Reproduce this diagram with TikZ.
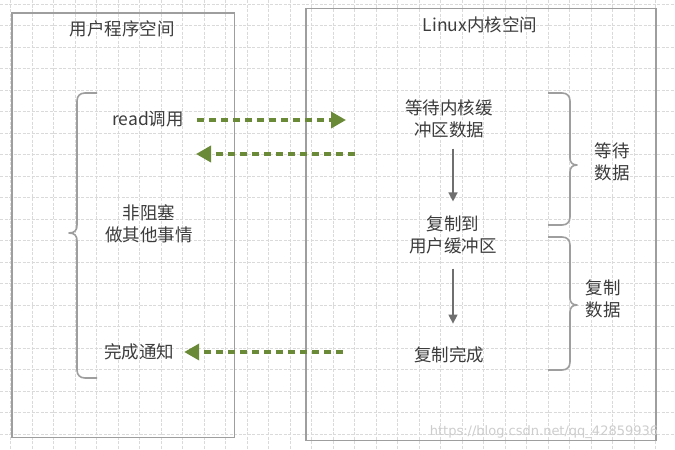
\documentclass[tikz,border=0pt]{standalone}
\usepackage{fontspec}
\newfontfamily\cjk{Noto Sans CJK SC}
\usetikzlibrary{arrows.meta}
\definecolor{gridc}{RGB}{218,218,218}
\definecolor{boxc}{RGB}{158,158,158}
\definecolor{txtc}{RGB}{60,60,60}
\definecolor{greenc}{RGB}{106,138,56}
\definecolor{wmc}{RGB}{205,205,205}
\begin{document}
\begin{tikzpicture}[x=1pt,y=-1pt,
  gridline/.style={gridc,line width=0.8pt,dash pattern=on 3pt off 1.5pt},
  spacebox/.style={draw=boxc,line width=1.8pt},
  lbl/.style={text=txtc,font=\cjk\fontsize{17.5}{22.5}\selectfont,align=center,inner sep=3pt},
  brace/.style={draw=boxc,line width=1.6pt,line join=round},
  greenarrow/.style={greenc,line width=3.5pt,dash pattern=on 7pt off 5pt,
    -{Triangle[length=15pt,width=16pt]}},
  grayarrow/.style={draw=boxc!70!black,line width=1.3pt,-{Triangle[length=9pt,width=9pt]}}
]
\useasboundingbox (0,0) rectangle (675,450);
\fill[white] (0,0) rectangle (675,450);
% grid
\foreach \i in {0,...,30} \draw[gridline] ({10.8+21.5*\i},0) -- ({10.8+21.5*\i},450);
\foreach \j in {0,...,20} \draw[gridline] (0,{4+21.5*\j}) -- (675,{4+21.5*\j});
% boxes
\draw[spacebox] (12,13) rectangle (234.5,437.5);
\draw[spacebox] (306,8.5) rectangle (656,440.5);
% titles
\node[lbl] (title1) at (122,29) {用户程序空间};
\node[lbl] (title2) at (480,25) {Linux内核空间};
% left column
\node[lbl] (read) at (148,119) {read调用};
\node[lbl] (nb) at (149,224) {非阻塞\\做其他事情};
\node[lbl] (done) at (139,352) {完成通知};
% right column
\node[lbl] (wait) at (449,119) {等待内核缓\\冲区数据};
\node[lbl] (copyto) at (453,235) {复制到\\用户缓冲区};
\node[lbl] (copydone) at (449,355) {复制完成};
\node[lbl] (waitdata) at (612,162) {等待\\数据};
\node[lbl] (copydata) at (603,299) {复制\\数据};
% braces
\draw[brace] (97,93) -- (85,93) .. controls (80,93) and (77,96) .. (77,101)
  -- (77,225) .. controls (77,230) and (75,233) .. (69,233)
  .. controls (75,233) and (77,236) .. (77,241)
  -- (77,370) .. controls (77,375) and (80,378) .. (85,378) -- (97,378);
\draw[brace] (548,93) -- (562,93) .. controls (567,93) and (570,96) .. (570,101)
  -- (570,158) .. controls (570,162) and (572,165) .. (577,165)
  .. controls (572,165) and (570,168) .. (570,172)
  -- (570,217) .. controls (570,222) and (567,225) .. (562,225) -- (548,225);
\draw[brace] (548,237) -- (562,237) .. controls (567,237) and (570,240) .. (570,245)
  -- (570,298) .. controls (570,302) and (572,305) .. (577,305)
  .. controls (572,305) and (570,308) .. (570,312)
  -- (570,362) .. controls (570,367) and (567,370) .. (562,370) -- (548,370);
% green arrows
\coordinate (k1) at (346,120);
\coordinate (k2) at (355,154);
\coordinate (u2) at (196,154);
\coordinate (k3) at (343,352);
\draw[greenarrow,shorten <=10pt] (read.east |- k1) -- (k1);
\draw[greenarrow] (k2) -- (u2);
\draw[greenarrow,shorten >=7pt] (k3) -- (done.east |- k3);
% gray arrows
\draw[grayarrow,shorten <=7pt,shorten >=11pt] (wait.south -| copyto.north) -- (copyto.north);
\draw[grayarrow,shorten <=11pt,shorten >=20pt] (copyto.south) -- (copyto.south |- copydone.north);
% watermark
\node[text=wmc,font=\fontspec{DejaVu Sans}\fontsize{13}{15}\selectfont,inner sep=0pt] (wm) at (544,432) {https://blog.csdn.net/qq\_42859936};
\end{tikzpicture}
\end{document}
